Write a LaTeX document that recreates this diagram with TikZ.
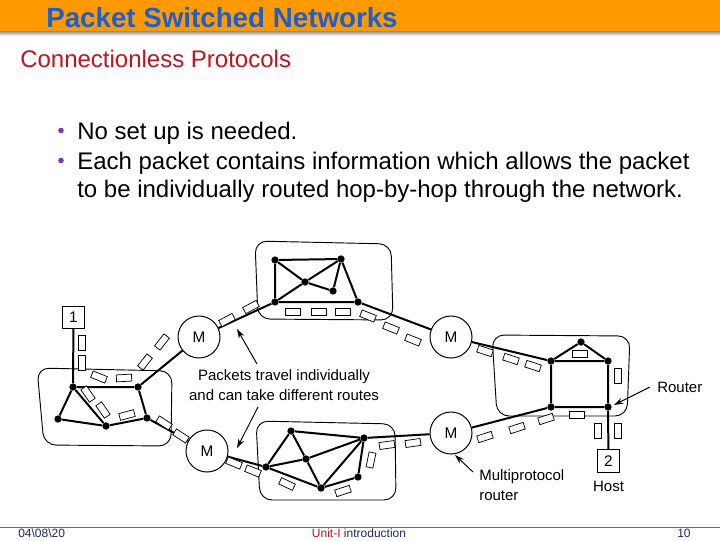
\documentclass[tikz,border=0pt]{standalone}
\usepackage{fontspec}
\setmainfont{Liberation Sans}
\usetikzlibrary{arrows.meta}
\definecolor{hdr}{RGB}{255,153,0}
\definecolor{ttl}{RGB}{30,95,205}
\definecolor{sub}{RGB}{192,20,30}
\definecolor{bul}{RGB}{130,50,190}
\definecolor{navy}{RGB}{30,40,100}
\definecolor{fline}{RGB}{210,70,30}
\begin{document}
\begin{tikzpicture}[x=0.75pt,y=-0.75pt,
  net/.style={line width=1.5pt},
  cloud/.style={line width=0.7pt, rounded corners=9pt},
  dot/.style={circle, fill=black, inner sep=0pt, minimum size=5.5pt},
  pkt/.style={draw, fill=white, line width=0.55pt, inner sep=0pt, minimum width=11.4pt, minimum height=5.2pt},
  mux/.style={circle, draw, fill=white, line width=0.75pt, minimum size=31.5pt, inner sep=0pt, font=\fontsize{11.5pt}{13pt}\selectfont},
  host/.style={draw, fill=white, line width=0.6pt, minimum size=17pt, inner sep=0pt, font=\fontsize{11.5pt}{13pt}\selectfont},
  lbl/.style={font=\fontsize{11.25pt}{14pt}\selectfont, inner sep=0pt},
  arr/.style={line width=0.7pt, -{Stealth[length=7pt,width=4.5pt]}},
]
\useasboundingbox (0,0) rectangle (720,540);
\fill[white] (0,0) rectangle (720,540);
% header
\fill[hdr] (0,0) rectangle (720,31);
\shade[top color=black!45, bottom color=white] (0,31) rectangle (720,36);
\node[anchor=base west, inner sep=0pt, text=ttl, font=\fontsize{20.8pt}{24pt}\selectfont\bfseries] (title) at (46,27) {Packet Switched Networks};
\node[anchor=base west, inner sep=0pt, text=sub, font=\fontsize{18pt}{22pt}\selectfont] (subt) at (20,67.5) {Connectionless Protocols};
% bullets
\fill[bul] (61,130.5) circle (2.8);
\fill[bul] (61,160.5) circle (2.8);
\node[anchor=base west, inner sep=0pt, font=\fontsize{18pt}{22pt}\selectfont] (b1) at (77,139) {No set up is needed.};
\node[anchor=base west, inner sep=0pt, font=\fontsize{18pt}{22pt}\selectfont] (b2) at (77,169) {Each packet contains information which allows the packet};
\node[anchor=base west, inner sep=0pt, font=\fontsize{18pt}{22pt}\selectfont] (b3) at (77,197) {to be individually routed hop-by-hop through the network.};
% footer
\draw[fline, line width=0.8pt] (0,527.5) -- (720,527.5);
\node[anchor=base west, inner sep=0pt, text=navy, font=\fontsize{9pt}{11pt}\selectfont] (f1) at (18,537) {04\textbackslash 08\textbackslash 20};
\node[anchor=base, inner sep=0pt, font=\fontsize{9pt}{11pt}\selectfont] (f2) at (359,537) {\textcolor{sub}{Unit-I} \textcolor{navy}{introduction}};
\node[anchor=base west, inner sep=0pt, text=navy, font=\fontsize{9pt}{11pt}\selectfont] (f3) at (677,537) {10};

% clouds
\draw[cloud] (37,368) -- (172,371) -- (171,446) -- (44,445) -- cycle;
\draw[cloud] (255,241) -- (391,244) -- (393,320) -- (258,319) -- cycle;
\draw[cloud] (256,421) -- (395,424) -- (396,500) -- (260,500) -- cycle;
\draw[cloud] (492,335) -- (630,336) -- (627,416) -- (497,416) -- cycle;

% nodes
\node[dot] (la) at (73,387) {};
\node[dot] (lb) at (138,387) {};
\node[dot] (lc) at (58,419) {};
\node[dot] (ld) at (106,426) {};
\node[dot] (le) at (147,418) {};
\node[dot] (ta) at (275,260) {};
\node[dot] (tb) at (341,259) {};
\node[dot] (tc) at (305,282) {};
\node[dot] (td) at (333,291) {};
\node[dot] (te) at (275,302) {};
\node[dot] (tf) at (358,302) {};
\node[dot] (ba) at (291,431) {};
\node[dot] (bb) at (364,438) {};
\node[dot] (bc) at (306,459) {};
\node[dot] (bd) at (266,467) {};
\node[dot] (be) at (321,488) {};
\node[dot] (bf) at (358,477) {};
\node[dot] (ra) at (581,342) {};
\node[dot] (rb) at (551,361) {};
\node[dot] (rc) at (608,361) {};
\node[dot] (rd) at (551,407) {};
\node[dot] (re) at (608,407) {};
\node[mux] (m1) at (199,337) {M};
\node[mux] (m2) at (451,337) {M};
\node[mux] (m3) at (207,451) {M};
\node[mux] (m4) at (451,433) {M};
\node[host] (h1) at (73.5,317.5) {1};
\node[host] (h2) at (608.5,461) {2};

% edges
\draw[net] (h1) -- (la) (la) -- (lb) (la) -- (lc) (lc) -- (ld) (la) -- (ld) (ld) -- (le) (lb) -- (le);
\draw[net] (lb) -- (m1) (le) -- (m3);
\draw[net] (m1) -- (te) (tf) -- (m2);
\draw[net] (ta) -- (tb) (ta) -- (te) (te) -- (tf) (tb) -- (tf) (tb) -- (tc) (tc) -- (te) (ta) -- (tc) (tc) -- (td) (td) -- (tb);
\draw[net] (m3) -- (bd) (bb) -- (m4);
\draw[net] (ba) -- (bd) (ba) -- (bc) (ba) -- (bb) (bd) -- (bc) (bc) -- (bb) (bd) -- (be) (bc) -- (be) (be) -- (bb) (be) -- (bf) (bf) -- (bb);
\draw[net] (m2) -- (rb) (m4) -- (rd);
\draw[net] (ra) -- (rb) (ra) -- (rc) (rb) -- (rc) (rb) -- (rd) (rc) -- (re) (rd) -- (re) (re) -- (h2);

% packets
\node[pkt, rotate=90] (p1) at (82,343) {};
\node[pkt, rotate=90] (p2) at (82,363) {};
\node[pkt, rotate=-22] (p3) at (99,377) {};
\node[pkt, rotate=3] (p4) at (124,378) {};
\node[pkt, rotate=-55] (p5) at (88,394) {};
\node[pkt, rotate=-55] (p6) at (103,410) {};
\node[pkt, rotate=15] (p7) at (127,415) {};
\node[pkt, rotate=52] (p8) at (145,362) {};
\node[pkt, rotate=52] (p9) at (162,342) {};
\node[pkt, rotate=-33] (p10) at (164,423) {};
\node[pkt, rotate=-33] (p11) at (181,436) {};
\node[pkt, rotate=28] (p12) at (227,320) {};
\node[pkt, rotate=28] (p13) at (251,307) {};
\node[pkt] (p14) at (293,312) {};
\node[pkt] (p15) at (319,312) {};
\node[pkt] (p16) at (343,312) {};
\node[pkt, rotate=-22] (p17) at (368,316) {};
\node[pkt, rotate=-22] (p18) at (391,328) {};
\node[pkt, rotate=-22] (p19) at (413,340) {};
\node[pkt, rotate=-18] (p20) at (485,351) {};
\node[pkt, rotate=-18] (p21) at (511,359) {};
\node[pkt, rotate=-18] (p22) at (533,366) {};
\node[pkt, rotate=18] (p23) at (485,437) {};
\node[pkt, rotate=18] (p24) at (517,428) {};
\node[pkt, rotate=18] (p25) at (546,419) {};
\node[pkt] (p26) at (580,354) {};
\node[pkt, rotate=90] (p27) at (617.5,375.5) {};
\node[pkt] (p28) at (577,414.5) {};
\node[pkt, rotate=90] (p29) at (598,430.5) {};
\node[pkt, rotate=90] (p30) at (618,430.5) {};
\node[pkt, rotate=-22] (p31) at (234,463) {};
\node[pkt, rotate=-22] (p32) at (253,471) {};
\node[pkt, rotate=-25] (p33) at (287,484) {};
\node[pkt, rotate=18] (p34) at (343,491) {};
\node[pkt, rotate=78] (p35) at (371,460) {};
\node[pkt, rotate=8] (p36) at (387,445) {};
\node[pkt, rotate=8] (p37) at (413,443) {};

% labels and arrows
\node[lbl, anchor=base] (t1) at (284,380) {Packets travel individually};
\node[lbl, anchor=base] (t2) at (284,400) {and can take different routes};
\coordinate (a1s) at (257,364);
\coordinate (a1e) at (237,329);
\coordinate (a2s) at (258,407);
\coordinate (a2e) at (237,448);
\draw[arr] (a1s) -- (a1e);
\draw[arr] (a2s) -- (a2e);
\node[lbl, anchor=base west] (rt) at (657,392) {Router};
\coordinate (a3s) at (650,387);
\coordinate (a3e) at (614,405);
\draw[arr] (a3s) -- (a3e);
\node[lbl, anchor=base west] (mp1) at (479,480) {Multiprotocol};
\node[lbl, anchor=base west] (mp2) at (479,500) {router};
\coordinate (a4s) at (473,472);
\coordinate (a4e) at (455,455);
\draw[arr] (a4s) -- (a4e);
\node[lbl, anchor=base] (hl) at (608.5,491) {Host};
\end{tikzpicture}
\end{document}
